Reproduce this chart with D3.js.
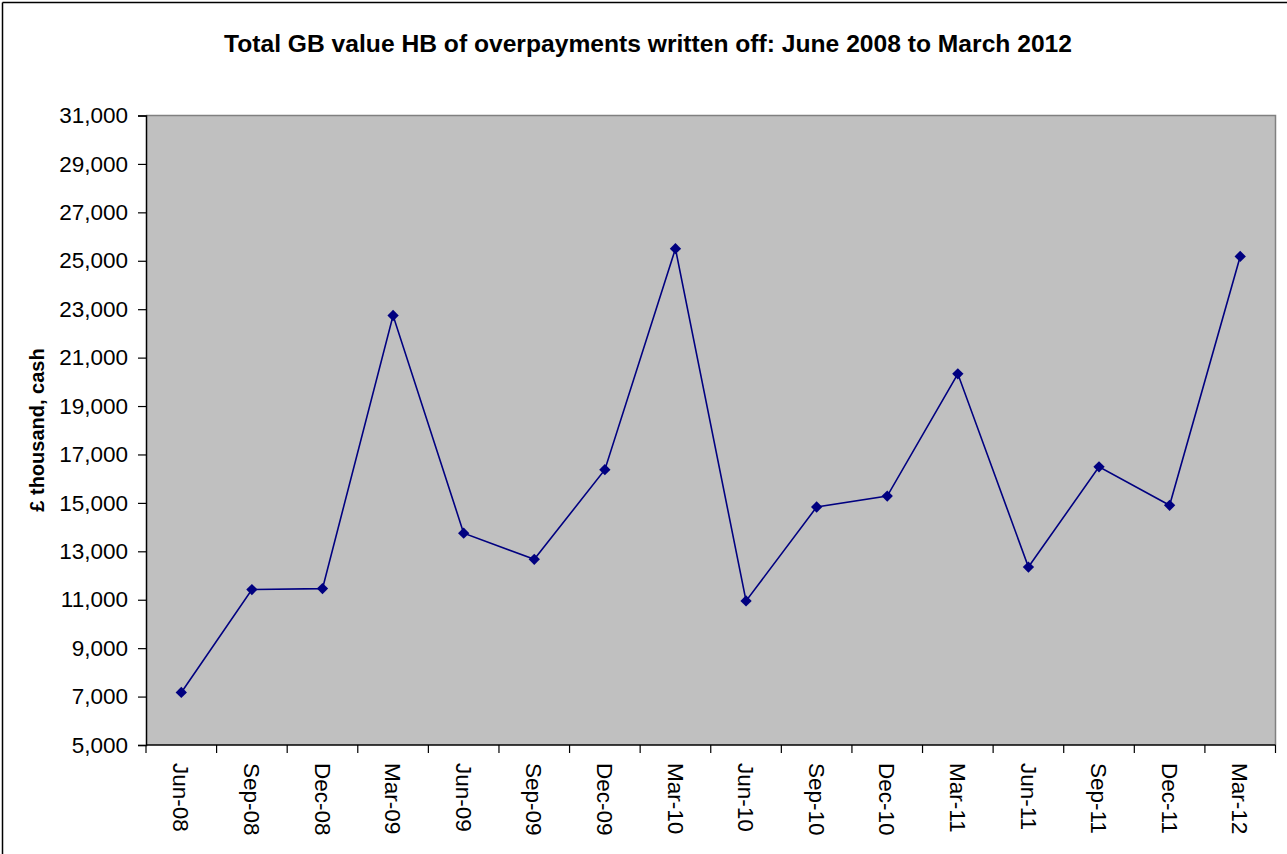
<!DOCTYPE html>
<html>
<head>
<meta charset="utf-8">
<script src="https://cdn.jsdelivr.net/npm/d3@7"></script>
<style>
  html, body { margin: 0; padding: 0; background: #ffffff; }
  svg { display: block; }
  text { font-family: "Liberation Sans", Arial, sans-serif; fill: #000; }
</style>
</head>
<body>
<svg id="chart" width="1287" height="854"></svg>
<script>
const title = "Total GB value HB of overpayments written off: June 2008 to March 2012";
const yAxisTitle = "£ thousand, cash";
const categories = ["Jun-08","Sep-08","Dec-08","Mar-09","Jun-09","Sep-09","Dec-09","Mar-10",
                    "Jun-10","Sep-10","Dec-10","Mar-11","Jun-11","Sep-11","Dec-11","Mar-12"];
const values = [7170, 11420, 11460, 22740, 13750, 12670, 16370, 25500,
                10950, 14830, 15280, 20330, 12350, 16490, 14900, 25180];
const yTicks = [5000, 7000, 9000, 11000, 13000, 15000, 17000, 19000, 21000, 23000, 25000, 27000, 29000, 31000];

const svg = d3.select("#chart");
const W = 1287, H = 854;
const plot = { left: 146, top: 115.5, right: 1275.5, bottom: 745 };

// outer chart border (only left and top visible)
svg.append("line").attr("x1", 2.5).attr("y1", 2.5).attr("x2", W).attr("y2", 2.5)
  .attr("stroke", "#000").attr("stroke-width", 1.5);
svg.append("line").attr("x1", 2.5).attr("y1", 2.5).attr("x2", 2.5).attr("y2", H)
  .attr("stroke", "#000").attr("stroke-width", 1.5);

const x = d3.scaleBand().domain(categories).range([plot.left, plot.right]).paddingInner(0).paddingOuter(0);
const y = d3.scaleLinear().domain([5000, 31000]).range([plot.bottom, plot.top]);

// plot area
svg.append("rect")
  .attr("x", plot.left).attr("y", plot.top)
  .attr("width", plot.right - plot.left).attr("height", plot.bottom - plot.top)
  .attr("fill", "#C0C0C0");
svg.append("path")
  .attr("d", `M${plot.left},${plot.top}H${plot.right}V${plot.bottom}`)
  .attr("fill", "none").attr("stroke", "#808080").attr("stroke-width", 1.5);

// title
svg.append("text")
  .attr("x", 648).attr("y", 52)
  .attr("text-anchor", "middle")
  .attr("font-size", 23).attr("font-weight", "bold")
  .attr("textLength", 848).attr("lengthAdjust", "spacingAndGlyphs")
  .text(title);

// y axis
const yAxis = d3.axisLeft(y).tickValues(yTicks).tickSize(8).tickPadding(10)
  .tickFormat(d3.format(","));
const gy = svg.append("g").attr("transform", `translate(${plot.left},0)`).call(yAxis);
gy.select(".domain").attr("stroke", "#000").attr("stroke-width", 1.5);
gy.selectAll(".tick line").attr("stroke", "#000").attr("stroke-width", 1.2);
gy.selectAll(".tick text").attr("font-size", 22.5).attr("fill", "#000")
  .attr("font-family", "Liberation Sans, Arial, sans-serif");

// y title
svg.append("text")
  .attr("transform", `translate(44,430) rotate(-90)`)
  .attr("text-anchor", "middle")
  .attr("font-size", 20).attr("font-weight", "bold")
  .text(yAxisTitle);

// x axis: ticks at category boundaries
const gx = svg.append("g").attr("transform", `translate(0,${plot.bottom})`);
gx.append("line").attr("x1", plot.left).attr("x2", plot.right).attr("y1", 0).attr("y2", 0)
  .attr("stroke", "#000").attr("stroke-width", 1.5);
const boundaries = categories.map(c => x(c)).concat([x(categories[categories.length - 1]) + x.bandwidth()]);
gx.selectAll("line.tk").data(boundaries).enter().append("line").attr("class", "tk")
  .attr("x1", d => d).attr("x2", d => d).attr("y1", 0).attr("y2", 8)
  .attr("stroke", "#000").attr("stroke-width", 1.2);
gx.selectAll("text.lbl").data(categories).enter().append("text").attr("class", "lbl")
  .attr("transform", d => `translate(${x(d) + x.bandwidth() / 2},18) rotate(90)`)
  .attr("dy", "0.35em")
  .attr("text-anchor", "start")
  .attr("font-size", 22.5)
  .text(d => d);

// line
const line = d3.line().x((d, i) => x(categories[i]) + x.bandwidth() / 2).y(d => y(d));
svg.append("path").datum(values)
  .attr("d", line).attr("fill", "none")
  .attr("stroke", "#000080").attr("stroke-width", 1.6);

// markers
const sym = d3.symbol().type(d3.symbolSquare).size(64);
svg.selectAll("path.mk").data(values).enter().append("path").attr("class", "mk")
  .attr("d", sym)
  .attr("transform", (d, i) => `translate(${x(categories[i]) + x.bandwidth() / 2},${y(d)}) rotate(45)`)
  .attr("fill", "#000080");
</script>
</body>
</html>
